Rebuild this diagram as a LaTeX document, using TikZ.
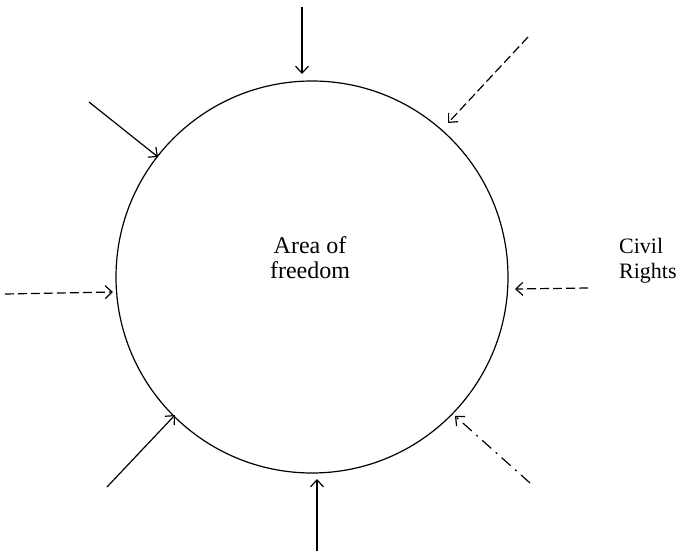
\documentclass[tikz,border=0pt]{standalone}
\usepackage{fontspec}
\setmainfont{Liberation Serif}
\usetikzlibrary{arrows.meta}
\begin{document}
\begin{tikzpicture}[x=1pt,y=-1pt,
  ink/.style={line width=1.2pt,black},
  arr/.style={ink,-{Straight Barb[length=7pt,width=13pt,line width=1.2pt]}},
  dsh/.style={dash pattern=on 9pt off 4pt},
  dshd/.style={dash pattern=on 12pt off 6pt on 2pt off 6pt},
  lbl/.style={font=\fontsize{24}{25}\selectfont,align=left,inner sep=0pt},
  sidelbl/.style={font=\fontsize{22}{25}\selectfont,align=left,inner sep=0pt}]
\useasboundingbox (0,0) rectangle (683,554);
\node[circle,draw,ink,minimum size=392pt,inner sep=0pt] (c) at (312,277) {};
\node[lbl,align=center,anchor=base] (t) at (310,278) {Area of\\freedom};
\node[sidelbl,anchor=base west] (cr) at (619,278) {Civil\\Rights};
% arrow start and tip coordinates
\coordinate (s1) at (302,7);   \coordinate (e1) at (302,74);
\coordinate (s2) at (528,37);  \coordinate (e2) at (448,123);
\coordinate (s3) at (89,102);  \coordinate (e3) at (158,157);
\coordinate (s4) at (5,294);   \coordinate (e4) at (113,292);
\coordinate (s5) at (588,288); \coordinate (e5) at (515,289);
\coordinate (s6) at (107,487); \coordinate (e6) at (175,415);
\coordinate (s7) at (317,551); \coordinate (e7) at (317,479);
\coordinate (s8) at (530,483); \coordinate (e8) at (455,416);
\draw[arr] (s1) -- (e1);
\draw[arr,dsh] (s2) -- (e2);
\draw[arr] (s3) -- (e3);
\draw[arr,dsh] (s4) -- (e4);
\draw[arr,dsh] (s5) -- (e5);
\draw[arr] (s6) -- (e6);
\draw[arr] (s7) -- (e7);
\draw[arr,dshd] (s8) -- (e8);
\end{tikzpicture}
\end{document}
